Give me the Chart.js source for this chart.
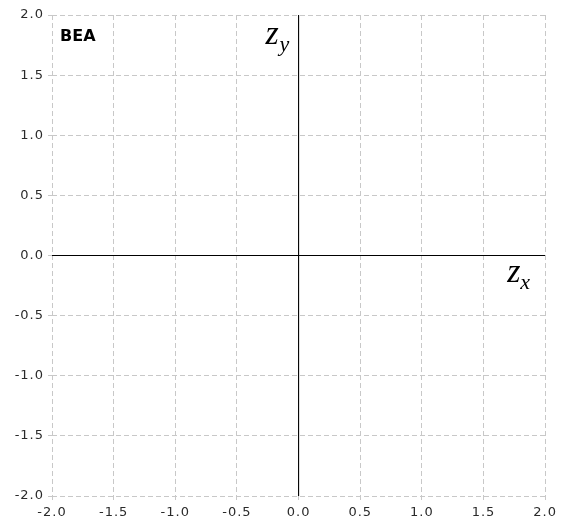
<!DOCTYPE html>
<html>
<head>
<meta charset="utf-8">
<script src="https://cdn.jsdelivr.net/npm/chart.js@4/dist/chart.umd.min.js"></script>
<style>
  html, body { margin: 0; padding: 0; background: #fff; }
  #wrap { width: 562px; height: 522px; }
</style>
</head>
<body>
<div id="wrap"><canvas id="c" width="562" height="522"></canvas></div>
<script>
// Axis ranges and tick labels of the complex plane
const xTicks = [-2.0, -1.5, -1.0, -0.5, 0.0, 0.5, 1.0, 1.5, 2.0];
const yTicks = [-2.0, -1.5, -1.0, -0.5, 0.0, 0.5, 1.0, 1.5, 2.0];
// Coordinate axes drawn through the origin
const realAxis = [{x: -2, y: 0}, {x: 2, y: 0}];
const imagAxis = [{x: 0, y: -2}, {x: 0, y: 2}];
const panelTitle = 'BEA';

// slightly wider tracking for the tick labels
const spacingPlugin = {
  id: 'tickSpacing',
  beforeLayout(chart) { chart.ctx.letterSpacing = '1px'; },
  beforeDraw(chart) { chart.ctx.letterSpacing = '1px'; }
};

const labelsPlugin = {
  id: 'planeLabels',
  afterDatasetsDraw(chart) {
    const {ctx, chartArea, scales} = chart;
    const xs = scales.x, ys = scales.y;
    ctx.save();
    ctx.letterSpacing = '0px';
    ctx.fillStyle = '#000';
    ctx.textBaseline = 'alphabetic';
    ctx.textAlign = 'left';
    ctx.font = 'bold 16px "DejaVu Sans", Verdana, sans-serif';
    ctx.fillText(panelTitle, chartArea.left + 8, chartArea.top + 26);

    const serifZ = 'italic 34px "Liberation Serif", "DejaVu Serif", serif';
    const serifSub = 'italic 22px "Liberation Serif", "DejaVu Serif", serif';

    // z_y beside the top of the imaginary axis
    const ox = xs.getPixelForValue(0);
    const topY = chartArea.top + 29;
    ctx.font = serifZ;
    ctx.fillText('z', ox - 33, topY);
    ctx.font = serifSub;
    ctx.fillText('y', ox - 19, topY + 7);

    // z_x below the right end of the real axis
    const oy = ys.getPixelForValue(0);
    const zx = chartArea.right - 38;
    ctx.font = serifZ;
    ctx.fillText('z', zx, oy + 26);
    ctx.font = serifSub;
    ctx.fillText('x', zx + 13, oy + 33);
    ctx.restore();
  }
};

const tickFont = {family: '"DejaVu Sans", Verdana, sans-serif', size: 13};
const gridOpts = {
  color: '#c8c8c8',
  lineWidth: 1,
  tickLength: 4,
  tickColor: '#c8c8c8',
  drawTicks: true
};

new Chart(document.getElementById('c'), {
  type: 'scatter',
  data: {
    datasets: [
      {data: realAxis, showLine: true, borderColor: '#000', borderWidth: 1, pointRadius: 0, fill: false},
      {data: imagAxis, showLine: true, borderColor: '#000', borderWidth: 1.1, pointRadius: 0, fill: false}
    ]
  },
  options: {
    responsive: false,
    animation: false,
    layout: {padding: {top: 15, right: 16, left: 0, bottom: 0}},
    plugins: {legend: {display: false}, tooltip: {enabled: false}},
    scales: {
      x: {
        type: 'linear', min: -2, max: 2,
        afterBuildTicks(s) { s.ticks = xTicks.map(v => ({value: v})); },
        afterFit(s) { s.height = 26; },
        border: {display: false, dash: [5, 3]},
        grid: gridOpts,
        ticks: {font: tickFont, color: '#2a2a2a', padding: 5, maxRotation: 0,
                callback: v => v.toFixed(1)}
      },
      y: {
        type: 'linear', min: -2, max: 2,
        afterBuildTicks(s) { s.ticks = yTicks.map(v => ({value: v})); },
        afterFit(s) { s.width = 52; },
        border: {display: false, dash: [5, 3]},
        grid: gridOpts,
        ticks: {font: tickFont, color: '#2a2a2a', padding: 4,
                callback: v => v.toFixed(1)}
      }
    }
  },
  plugins: [spacingPlugin, labelsPlugin]
});
</script>
</body>
</html>
